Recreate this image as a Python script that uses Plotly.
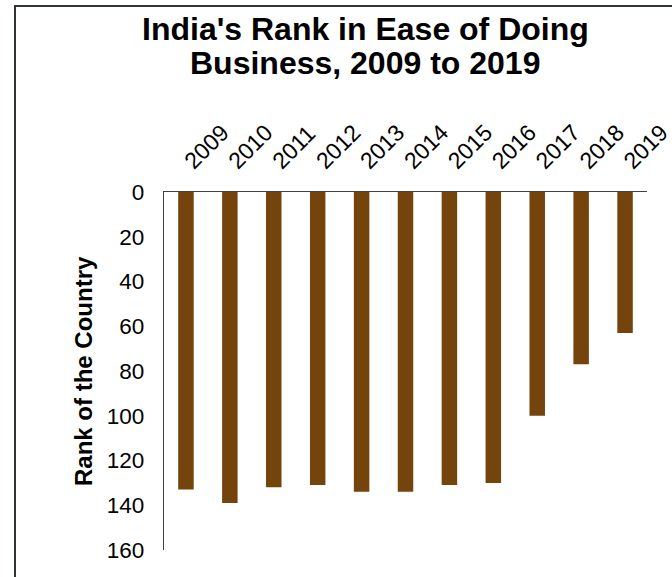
import plotly.graph_objects as go

# Ease of Doing Business: India's rank by year
years = ["2009", "2010", "2011", "2012", "2013", "2014",
         "2015", "2016", "2017", "2018", "2019"]
ranks = [133, 139, 132, 131, 134, 134, 131, 130, 100, 77, 63]
y_ticks = [0, 20, 40, 60, 80, 100, 120, 140, 160]
title_lines = ["India's Rank in Ease of Doing", "Business, 2009 to 2019"]
y_title = "Rank of the Country"

W, H = 672, 577
L, R, T, B = 164, 25, 192, 27
FONT = "Liberation Sans, Arial, sans-serif"
pw, ph = W - L - R, H - T - B


def px_x(x):
    """Pixel column -> paper x."""
    return (x - L) / pw


def px_y(y):
    """Pixel row (from top) -> paper y."""
    return (H - B - y) / ph


fig = go.Figure(
    go.Bar(
        x=years,
        y=ranks,
        marker=dict(color="#74440C", line=dict(width=0)),
        hoverinfo="x+y",
    )
)

# chart frame, running off the right and bottom edges
fig.add_shape(
    type="rect", xref="paper", yref="paper",
    x0=px_x(15), x1=px_x(W + 10), y0=px_y(H + 10), y1=px_y(6),
    line=dict(color="#2F3437", width=2), fillcolor="rgba(0,0,0,0)", layer="below",
)

# two-line bold title, lines set at their own baselines
for text, baseline in zip(title_lines, [42, 76]):
    fig.add_annotation(
        text=f"<b>{text}</b>", xref="paper", yref="paper",
        x=px_x(365), y=px_y(baseline + 7), xanchor="center", yanchor="bottom",
        showarrow=False, font=dict(family=FONT, size=32, color="#000000"),
    )

# vertical y-axis title
fig.add_annotation(
    text=f"<b>{y_title}</b>", xref="paper", yref="paper",
    x=px_x(83), y=0.5, xanchor="center", yanchor="middle", textangle=-90,
    showarrow=False, font=dict(family=FONT, size=24, color="#000000"),
)

fig.update_layout(
    width=W, height=H,
    margin=dict(l=L, r=R, t=T, b=B, pad=0),
    paper_bgcolor="white", plot_bgcolor="white",
    bargap=0.647,
    showlegend=False,
    font=dict(family=FONT, color="#000000"),
    xaxis=dict(
        side="top",
        type="category",
        tickangle=-45,
        tickfont=dict(size=23),
        ticklabelstandoff=8,
        showline=True, linecolor="#404040", linewidth=1.3,
        showgrid=False, ticks="", zeroline=False,
        automargin=False,
    ),
    yaxis=dict(
        range=[160, 0],
        tickvals=y_ticks,
        tickfont=dict(size=22.5),
        ticklabelstandoff=14,
        showline=True, linecolor="#404040", linewidth=1.3,
        showgrid=False, ticks="", zeroline=False,
        automargin=False,
    ),
)

fig.write_html("out.html")
